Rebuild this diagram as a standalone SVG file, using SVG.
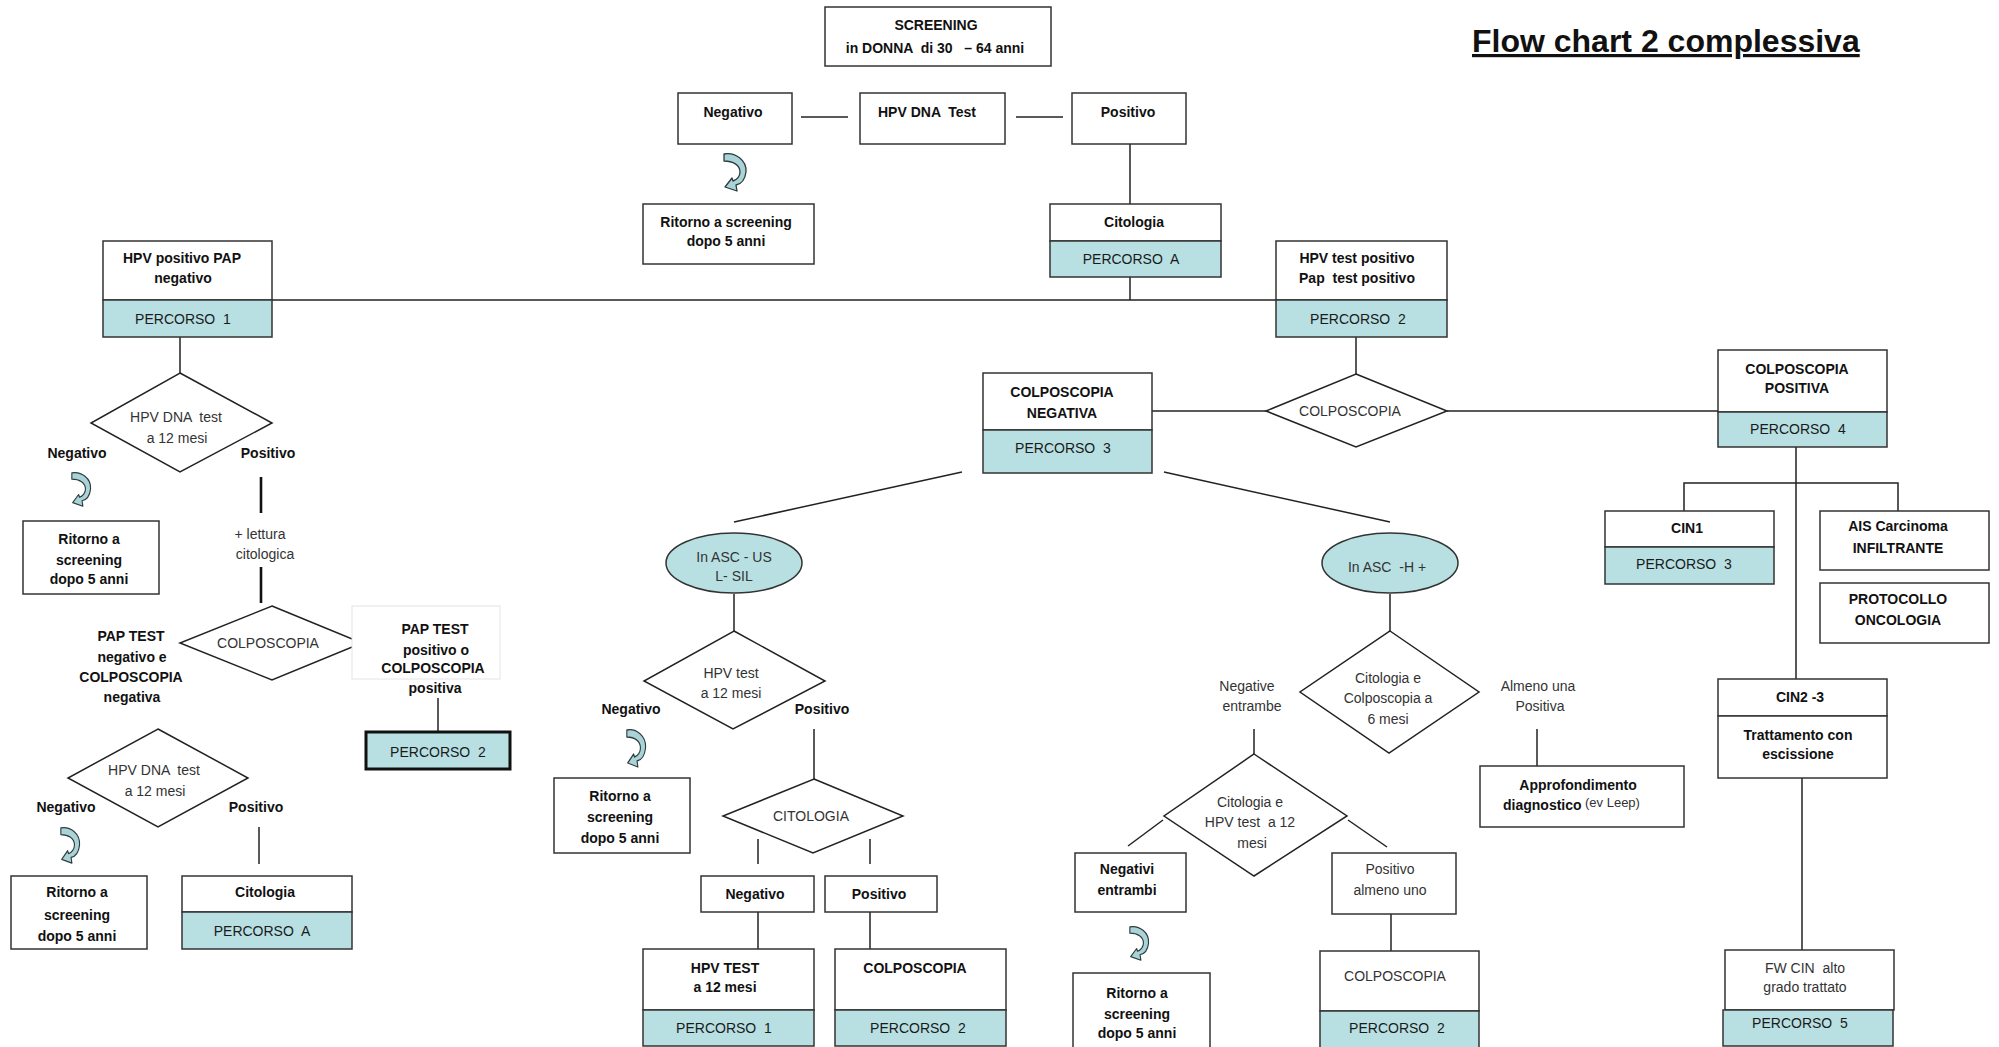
<svg xmlns="http://www.w3.org/2000/svg" width="1999" height="1047" viewBox="0 0 1999 1047">
  <style>
    text { font-family: "Liberation Sans", Arial, sans-serif; font-size: 14px; text-anchor: middle; dominant-baseline: central; fill: #333; }
    .bd { font-weight: bold; fill: #111; }
    .st { text-anchor: start; }
    .box { fill: #fff; stroke: #333; stroke-width: 1.5; }
    .teal { fill: #b8e0e3; stroke: #333; stroke-width: 1.5; }
    .dia { fill: #fff; stroke: #222; stroke-width: 1.5; }
    .ln { stroke: #222; stroke-width: 1.5; fill: none; }
    .thick { stroke: #111; stroke-width: 2.6; fill: none; }
    .pc { word-spacing: 4px; fill: #1a1a1a; }
    .title { font-size: 32px; font-weight: bold; fill: #111; text-anchor: start; dominant-baseline: alphabetic; text-decoration: underline; }
  </style>
  <defs>
    <!-- return-to-screening curved arrow -->
    <path id="uturn" d="M1,1 C12,-1 24,7 23,19 C22,27 18,31 13,32 L14,38 L2,34 L9,25 L10,28 C14,27 17,23 17,19 C17,12 10,8 1,8 Z" fill="#a9d3d6" stroke="#2b3b3d" stroke-width="1.3" stroke-linejoin="round"/>
  </defs>

  <rect width="1999" height="1047" fill="#fff"/>

  <text class="title" x="1472" y="52">Flow chart 2 complessiva</text>

  <!-- connectors -->
  <g id="connectors">
    <line class="ln" x1="801" y1="117" x2="848" y2="117"/>
    <line class="ln" x1="1016" y1="117" x2="1063" y2="117"/>
    <line class="ln" x1="1130" y1="144" x2="1130" y2="204"/>
    <line class="ln" x1="1130" y1="277" x2="1130" y2="300"/>
    <line class="ln" x1="272" y1="300" x2="1276" y2="300"/>
    <line class="ln" x1="180" y1="337" x2="180" y2="373"/>
    <line class="thick" x1="261" y1="477" x2="261" y2="513"/>
    <line class="thick" x1="261" y1="567" x2="261" y2="603"/>
    <line class="ln" x1="438" y1="698" x2="438" y2="732"/>
    <line class="ln" x1="259" y1="827" x2="259" y2="864"/>
    <line class="ln" x1="1356" y1="337" x2="1356" y2="374"/>
    <line class="ln" x1="1152" y1="411" x2="1266" y2="411"/>
    <line class="ln" x1="1447" y1="411" x2="1718" y2="411"/>
    <line class="ln" x1="962" y1="472" x2="734" y2="522"/>
    <line class="ln" x1="1164" y1="472" x2="1390" y2="522"/>
    <line class="ln" x1="734" y1="594" x2="734" y2="631"/>
    <line class="ln" x1="1390" y1="594" x2="1390" y2="631"/>
    <line class="ln" x1="814" y1="729" x2="814" y2="779"/>
    <line class="ln" x1="758" y1="839" x2="758" y2="864"/>
    <line class="ln" x1="870" y1="839" x2="870" y2="864"/>
    <line class="ln" x1="758" y1="912" x2="758" y2="949"/>
    <line class="ln" x1="870" y1="912" x2="870" y2="949"/>
    <line class="ln" x1="1254" y1="729" x2="1254" y2="754"/>
    <line class="ln" x1="1163" y1="820" x2="1128" y2="846"/>
    <line class="ln" x1="1348" y1="820" x2="1387" y2="847"/>
    <line class="ln" x1="1391" y1="914" x2="1391" y2="951"/>
    <line class="ln" x1="1537" y1="729" x2="1537" y2="766"/>
    <line class="ln" x1="1796" y1="447" x2="1796" y2="679"/>
    <polyline class="ln" points="1684,511 1684,483 1898,483 1898,511"/>
    <line class="ln" x1="1802" y1="778" x2="1802" y2="950"/>
  </g>

  <!-- top row -->
  <g id="screening">
    <rect class="box" x="825" y="7" width="226" height="59"/>
    <text class="bd" x="936" y="25">SCREENING</text>
    <text class="bd" x="935" y="48" xml:space="preserve">in DONNA  di 30   – 64 anni</text>
  </g>
  <g id="hpv-negativo">
    <rect class="box" x="678" y="93" width="114" height="51"/>
    <text class="bd" x="733" y="112">Negativo</text>
  </g>
  <g id="hpv-dna-test">
    <rect class="box" x="860" y="93" width="145" height="51"/>
    <text class="bd" x="927" y="112" xml:space="preserve">HPV DNA  Test</text>
  </g>
  <g id="hpv-positivo">
    <rect class="box" x="1072" y="93" width="114" height="51"/>
    <text class="bd" x="1128" y="112">Positivo</text>
  </g>
  <g id="ritorno-top">
    <use href="#uturn" x="723" y="153"/>
    <rect class="box" x="643" y="204" width="171" height="60"/>
    <text class="bd" x="726" y="222">Ritorno a screening</text>
    <text class="bd" x="726" y="241">dopo 5 anni</text>
  </g>
  <g id="citologia-a">
    <rect class="box" x="1050" y="204" width="171" height="37"/>
    <rect class="teal" x="1050" y="241" width="171" height="36"/>
    <text class="bd" x="1134" y="222">Citologia</text>
    <text class="pc" x="1131" y="259">PERCORSO A</text>
  </g>
  <g id="percorso-1">
    <rect class="box" x="103" y="241" width="169" height="59"/>
    <rect class="teal" x="103" y="300" width="169" height="37"/>
    <text class="bd" x="182" y="258">HPV positivo PAP</text>
    <text class="bd" x="183" y="278">negativo</text>
    <text class="pc" x="183" y="319">PERCORSO 1</text>
  </g>
  <g id="percorso-2">
    <rect class="box" x="1276" y="241" width="171" height="59"/>
    <rect class="teal" x="1276" y="300" width="171" height="37"/>
    <text class="bd" x="1357" y="258">HPV test positivo</text>
    <text class="bd" x="1357" y="278" xml:space="preserve">Pap  test positivo</text>
    <text class="pc" x="1358" y="319">PERCORSO 2</text>
  </g>

  <!-- left branch: percorso 1 -->
  <g id="p1-hpv-12m">
    <polygon class="dia" points="180,373 272,423 180,472 91,423"/>
    <text x="176" y="417" xml:space="preserve">HPV DNA  test</text>
    <text x="177" y="438">a 12 mesi</text>
    <text class="bd" x="77" y="453">Negativo</text>
    <text class="bd" x="268" y="453">Positivo</text>
  </g>
  <g id="p1-ritorno">
    <use href="#uturn" transform="translate(71 472) scale(0.85 0.9)"/>
    <rect class="box" x="23" y="521" width="136" height="73"/>
    <text class="bd" x="89" y="539">Ritorno a</text>
    <text class="bd" x="89" y="560">screening</text>
    <text class="bd" x="89" y="579">dopo 5 anni</text>
  </g>
  <g id="p1-lettura">
    <text x="260" y="534">+ lettura</text>
    <text x="265" y="554">citologica</text>
  </g>
  <g id="p1-colposcopia">
    <polygon class="dia" points="272,606 362,643 272,680 180,643"/>
    <text x="268" y="643">COLPOSCOPIA</text>
  </g>
  <g id="p1-esito-neg">
    <text class="bd" x="131" y="636">PAP TEST</text>
    <text class="bd" x="132" y="657">negativo e</text>
    <text class="bd" x="131" y="677">COLPOSCOPIA</text>
    <text class="bd" x="132" y="697">negativa</text>
  </g>
  <g id="p1-esito-pos">
    <rect x="352" y="606" width="148" height="73" fill="#fff" stroke="#e4e4e4" stroke-width="1"/>
    <text class="bd" x="435" y="629">PAP TEST</text>
    <text class="bd" x="436" y="650">positivo o</text>
    <text class="bd" x="433" y="668">COLPOSCOPIA</text>
    <text class="bd" x="435" y="688">positiva</text>
  </g>
  <g id="p1-percorso-2">
    <rect x="366" y="732" width="144" height="37" fill="#b8e0e3" stroke="#111" stroke-width="3"/>
    <text class="pc" x="438" y="752">PERCORSO 2</text>
  </g>
  <g id="p1-hpv-12m-bis">
    <polygon class="dia" points="158,729 248,778 158,827 68,778"/>
    <text x="154" y="770" xml:space="preserve">HPV DNA  test</text>
    <text x="155" y="791">a 12 mesi</text>
    <text class="bd" x="66" y="807">Negativo</text>
    <text class="bd" x="256" y="807">Positivo</text>
  </g>
  <g id="p1-ritorno-bis">
    <use href="#uturn" transform="translate(60 827) scale(0.85 0.95)"/>
    <rect class="box" x="11" y="876" width="136" height="73"/>
    <text class="bd" x="77" y="892">Ritorno a</text>
    <text class="bd" x="77" y="915">screening</text>
    <text class="bd" x="77" y="936">dopo 5 anni</text>
  </g>
  <g id="p1-citologia-a">
    <rect class="box" x="182" y="876" width="170" height="36"/>
    <rect class="teal" x="182" y="912" width="170" height="37"/>
    <text class="bd" x="265" y="892">Citologia</text>
    <text class="pc" x="262" y="931">PERCORSO A</text>
  </g>

  <!-- centre: colposcopia -->
  <g id="percorso-3">
    <rect class="box" x="983" y="373" width="169" height="57"/>
    <rect class="teal" x="983" y="430" width="169" height="43"/>
    <text class="bd" x="1062" y="392">COLPOSCOPIA</text>
    <text class="bd" x="1062" y="413">NEGATIVA</text>
    <text class="pc" x="1063" y="448">PERCORSO 3</text>
  </g>
  <g id="colposcopia">
    <polygon class="dia" points="1356,374 1447,411 1356,447 1266,411"/>
    <text x="1350" y="411">COLPOSCOPIA</text>
  </g>
  <g id="percorso-4">
    <rect class="box" x="1718" y="350" width="169" height="62"/>
    <rect class="teal" x="1718" y="412" width="169" height="35"/>
    <text class="bd" x="1797" y="369">COLPOSCOPIA</text>
    <text class="bd" x="1797" y="388">POSITIVA</text>
    <text class="pc" x="1798" y="429">PERCORSO 4</text>
  </g>

  <!-- percorso 3: ASC-US / L-SIL -->
  <g id="asc-us">
    <ellipse cx="734" cy="563" rx="68" ry="30" fill="#b8e0e3" stroke="#333" stroke-width="1.5"/>
    <text x="734" y="557" fill="#1a1a1a">In ASC - US</text>
    <text x="734" y="576" fill="#1a1a1a">L- SIL</text>
  </g>
  <g id="ascus-hpv-12m">
    <polygon class="dia" points="734,631 825,681 733,729 644,681"/>
    <text x="731" y="673">HPV test</text>
    <text x="731" y="693">a 12 mesi</text>
    <text class="bd" x="631" y="709">Negativo</text>
    <text class="bd" x="822" y="709">Positivo</text>
  </g>
  <g id="ascus-ritorno">
    <use href="#uturn" transform="translate(626 729) scale(0.85 1)"/>
    <rect class="box" x="554" y="778" width="136" height="75"/>
    <text class="bd" x="620" y="796">Ritorno a</text>
    <text class="bd" x="620" y="817">screening</text>
    <text class="bd" x="620" y="838">dopo 5 anni</text>
  </g>
  <g id="ascus-citologia">
    <polygon class="dia" points="814,779 903,816 813,853 723,816"/>
    <text x="811" y="816">CITOLOGIA</text>
  </g>
  <g id="ascus-negativo">
    <rect class="box" x="701" y="876" width="113" height="36"/>
    <text class="bd" x="755" y="894">Negativo</text>
  </g>
  <g id="ascus-positivo">
    <rect class="box" x="825" y="876" width="112" height="36"/>
    <text class="bd" x="879" y="894">Positivo</text>
  </g>
  <g id="ascus-percorso-1">
    <rect class="box" x="643" y="949" width="171" height="61"/>
    <rect class="teal" x="643" y="1010" width="171" height="36"/>
    <text class="bd" x="725" y="968">HPV TEST</text>
    <text class="bd" x="725" y="987">a 12 mesi</text>
    <text class="pc" x="724" y="1028">PERCORSO 1</text>
  </g>
  <g id="ascus-percorso-2">
    <rect class="box" x="835" y="949" width="171" height="61"/>
    <rect class="teal" x="835" y="1010" width="171" height="36"/>
    <text class="bd" x="915" y="968">COLPOSCOPIA</text>
    <text class="pc" x="918" y="1028">PERCORSO 2</text>
  </g>

  <!-- percorso 3: ASC-H + -->
  <g id="asc-h">
    <ellipse cx="1390" cy="563" rx="68" ry="30" fill="#b8e0e3" stroke="#333" stroke-width="1.5"/>
    <text x="1387" y="567" fill="#1a1a1a" xml:space="preserve">In ASC  -H +</text>
  </g>
  <g id="asch-6m">
    <polygon class="dia" points="1390,631 1479,692 1389,753 1300,692"/>
    <text x="1388" y="678">Citologia e</text>
    <text x="1388" y="698">Colposcopia a</text>
    <text x="1388" y="719">6 mesi</text>
  </g>
  <g id="asch-labels">
    <text x="1247" y="686">Negative</text>
    <text x="1252" y="706">entrambe</text>
    <text x="1538" y="686">Almeno una</text>
    <text x="1540" y="706">Positiva</text>
  </g>
  <g id="asch-approfondimento">
    <rect class="box" x="1480" y="766" width="204" height="61"/>
    <text class="bd" x="1578" y="785">Approfondimento</text>
    <text class="bd st" x="1503" y="805">diagnostico</text>
    <text class="st" x="1585" y="802" style="font-size:13px">(ev Leep)</text>
  </g>
  <g id="asch-12m">
    <polygon class="dia" points="1254,754 1347,816 1254,876 1164,816"/>
    <text x="1250" y="802">Citologia e</text>
    <text x="1250" y="822" xml:space="preserve">HPV test  a 12</text>
    <text x="1252" y="843">mesi</text>
  </g>
  <g id="asch-negativi">
    <rect class="box" x="1075" y="853" width="111" height="59"/>
    <text class="bd" x="1127" y="869">Negativi</text>
    <text class="bd" x="1127" y="890">entrambi</text>
  </g>
  <g id="asch-ritorno">
    <use href="#uturn" transform="translate(1129 926) scale(0.85 0.9)"/>
    <rect class="box" x="1073" y="973" width="137" height="76"/>
    <text class="bd" x="1137" y="993">Ritorno a</text>
    <text class="bd" x="1137" y="1014">screening</text>
    <text class="bd" x="1137" y="1033">dopo 5 anni</text>
  </g>
  <g id="asch-positivo">
    <rect class="box" x="1332" y="853" width="124" height="61"/>
    <text x="1390" y="869">Positivo</text>
    <text x="1390" y="890">almeno uno</text>
  </g>
  <g id="asch-percorso-2">
    <rect class="box" x="1320" y="951" width="159" height="60"/>
    <rect class="teal" x="1320" y="1011" width="159" height="38"/>
    <text x="1395" y="976">COLPOSCOPIA</text>
    <text class="pc" x="1397" y="1028">PERCORSO 2</text>
  </g>

  <!-- percorso 4 -->
  <g id="cin1">
    <rect class="box" x="1605" y="511" width="169" height="36"/>
    <rect class="teal" x="1605" y="547" width="169" height="37"/>
    <text class="bd" x="1687" y="528">CIN1</text>
    <text class="pc" x="1684" y="564">PERCORSO 3</text>
  </g>
  <g id="ais">
    <rect class="box" x="1820" y="511" width="169" height="59"/>
    <text class="bd" x="1898" y="526">AIS Carcinoma</text>
    <text class="bd" x="1898" y="548">INFILTRANTE</text>
  </g>
  <g id="protocollo">
    <rect class="box" x="1820" y="583" width="169" height="60"/>
    <text class="bd" x="1898" y="599">PROTOCOLLO</text>
    <text class="bd" x="1898" y="620">ONCOLOGIA</text>
  </g>
  <g id="cin2-3">
    <rect class="box" x="1718" y="679" width="169" height="37"/>
    <rect class="box" x="1718" y="716" width="169" height="62"/>
    <text class="bd" x="1800" y="697">CIN2 -3</text>
    <text class="bd" x="1798" y="735">Trattamento con</text>
    <text class="bd" x="1798" y="754">escissione</text>
  </g>
  <g id="percorso-5">
    <rect class="box" x="1725" y="950" width="169" height="60"/>
    <rect class="teal" x="1723" y="1010" width="170" height="36"/>
    <text x="1805" y="968" xml:space="preserve">FW CIN  alto</text>
    <text x="1805" y="987">grado trattato</text>
    <text class="pc" x="1800" y="1023">PERCORSO 5</text>
  </g>
</svg>
